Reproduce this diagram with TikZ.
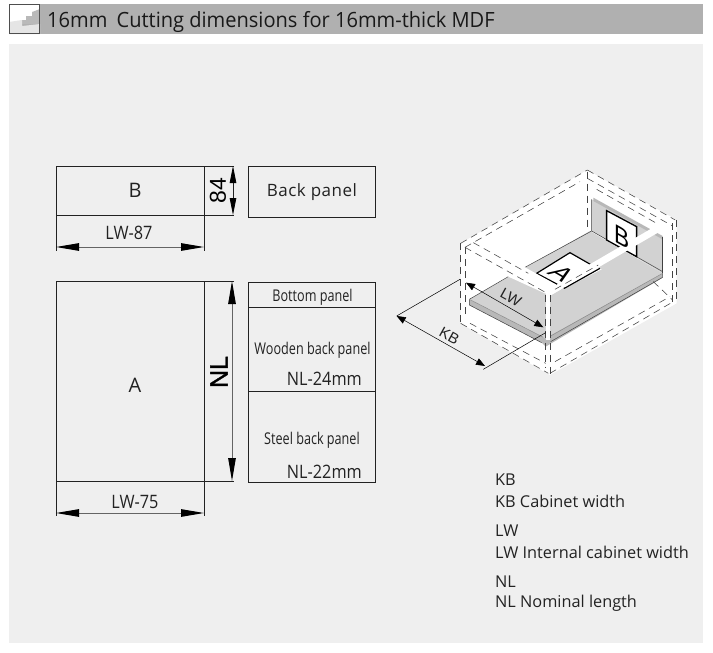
\documentclass[tikz,border=0pt]{standalone}
\usepackage{fontspec}
\setmainfont{Open Sans}
\newfontfamily\narrowfont[FakeStretch=0.78]{Open Sans}
\newfontfamily\semifont[FakeStretch=0.88]{Open Sans}
\newfontfamily\titlefont[FakeStretch=0.955]{Open Sans}
\newfontfamily\dimfont{Liberation Sans}
\newfontfamily\dimbold[FakeBold=1.2]{Liberation Sans}
\usetikzlibrary{arrows.meta}
\definecolor{panelbg}{HTML}{EFEFEF}
\definecolor{barbg}{HTML}{B0B0B0}
\definecolor{ink}{HTML}{222222}
\definecolor{floorc}{HTML}{D2D2D2}
\definecolor{edgec}{HTML}{B8B8B8}
\tikzset{
 fsize/.style={font=\fontsize{#1}{#1}\selectfont},
 panelbox/.style={draw=ink,line width=0.9pt},
 dimline/.style={draw=ink,line width=0.8pt},
 dimarrow/.style={draw=ink!70,line width=1pt,{Triangle[length=23pt,width=7.5pt,color=black]}-{Triangle[length=23pt,width=7.5pt,color=black]}},
 txt/.style={text=ink,inner sep=0pt},
 dash3d/.style={draw=ink!85,line width=0.55pt,dash pattern=on 7pt off 5pt},
 line3d/.style={draw=black!75,line width=0.5pt},
 arrow3d/.style={draw=black,line width=0.5pt,{Triangle[length=9pt,width=7pt,color=black]}-{Triangle[length=9pt,width=7pt,color=black]}},
}
\begin{document}
\begin{tikzpicture}[x=1pt,y=-1pt]
\useasboundingbox (0,0) rectangle (713,653);
\fill[white] (0,0) rectangle (713,653);
% header
\fill[barbg] (9,4) rectangle (703,34);
\fill[panelbg] (9,44) rectangle (703,643);
% icon
\fill[white] (9,4) rectangle (40,24);
\fill[gray!55] (22,24) -- (22,20) -- (26,20) -- (26,16) -- (32,16) -- (32,12) -- (40,9) -- (40,24) -- cycle;
\fill[gray!20] (9,22) -- (22,20) -- (22,26) -- (40,24) -- (40,34) -- (9,34) -- cycle;
\draw[ink!80,line width=0.7pt] (9.5,4.5) rectangle (39.5,33.5);
\node[txt,anchor=west,fsize=21,text=black!90] (title) at (47,21.5) {\titlefont 16mm\hspace{4pt} Cutting dimensions for 16mm-thick MDF};

% B piece
\coordinate (bTL) at (56,166); \coordinate (bTR) at (204,166);
\coordinate (bBL) at (56,215); \coordinate (bBR) at (204,215);
\coordinate (bTx) at (234,166); \coordinate (bBx) at (234,215);
\coordinate (bLd) at (56,251); \coordinate (bRd) at (204,251);
\coordinate (bLa) at (56,247); \coordinate (bRa) at (204,247);
\coordinate (bHt) at (233,166); \coordinate (bHb) at (233,215);
\draw[dimline] (bTx) -- (bTL) -- (bLd);
\draw[dimline] (bBL) -- (bBx);
\draw[dimline] (bTR) -- (bRd);
\draw[dimarrow] (bLa) -- (bRa);
\draw[draw=ink,line width=0.8pt,{Triangle[length=17pt,width=6.5pt,color=black]}-{Triangle[length=17pt,width=6.5pt,color=black]}] (bHt) -- (bHb);
\node[txt,fsize=20] (labB) at (135,190) {B};
\node[txt,fsize=18.5] (lab87) at (129,233) {\semifont LW-87};
\node[txt,fsize=23,rotate=90,text=black] (lab84) at (218,190.5) {\dimfont 84};

% back panel box
\node[panelbox,minimum width=127pt,minimum height=51pt,anchor=north west,inner sep=0pt,fsize=17,text=ink] (back) at (248,166) {\addfontfeature{LetterSpace=3}Back panel};

% A piece
\coordinate (aTL) at (56,281); \coordinate (aTR) at (204,281);
\coordinate (aBL) at (56,481); \coordinate (aBR) at (204,481);
\coordinate (aTx) at (234,281); \coordinate (aBx) at (234,481);
\coordinate (aLd) at (56,516); \coordinate (aRd) at (204,516);
\coordinate (aLa) at (56,513); \coordinate (aRa) at (204,513);
\coordinate (aHt) at (232,281); \coordinate (aHb) at (232,481);
\draw[dimline] (aTx) -- (aTL) -- (aLd);
\draw[dimline] (aBL) -- (aBx);
\draw[dimline] (aTR) -- (aRd);
\draw[dimarrow] (aLa) -- (aRa);
\draw[dimarrow] (aHt) -- (aHb);
\node[txt,fsize=20] (labA) at (135,385) {A};
\node[txt,fsize=18.5] (lab75) at (135,502) {\semifont LW-75};
\node[txt,fsize=25,rotate=90,text=black] (labNL) at (219,372) {\dimbold NL};

% panel stack
\node[panelbox,minimum width=127pt,minimum height=200pt,anchor=north west,inner sep=0pt] (stack) at (248,282) {};
\coordinate (s1l) at (248,307); \coordinate (s1r) at (375,307);
\coordinate (s2l) at (248,391); \coordinate (s2r) at (375,391);
\draw[panelbox] (s1l) -- (s1r);
\draw[panelbox] (s2l) -- (s2r);
\node[txt,fsize=16.2] (t1) at (312.5,297) {\narrowfont Bottom panel};
\node[txt,fsize=16.2] (t2) at (312.5,350) {\narrowfont Wooden back panel};
\node[txt,anchor=east,fsize=18.5] (t3) at (362,379) {\semifont NL-24mm};
\node[txt,fsize=16.2] (t4) at (312,440) {\narrowfont Steel back panel};
\node[txt,anchor=east,fsize=18.5] (t5) at (362,472) {\semifont NL-22mm};

% legend
\node[txt,anchor=west,fsize=16.3] (k1) at (495,480) {KB};
\node[txt,anchor=west,fsize=16.3] (k2) at (495,501) {KB Cabinet width};
\node[txt,anchor=west,fsize=16.3] (k3) at (495,531) {LW};
\node[txt,anchor=west,fsize=16.3] (k4) at (495,552) {LW Internal cabinet width};
\node[txt,anchor=west,fsize=16.3] (k5) at (495,582) {NL};
\node[txt,anchor=west,fsize=16.3] (k6) at (495,603) {NL Nominal length};

% isometric drawer, coordinates in 3x zoom units
\begin{scope}[shift={(380,160)},x=0.3333pt,y=-0.3333pt]
 \fill[white] (242,250) -- (622,30) -- (890,180) -- (890,430) -- (510,645) -- (242,490) -- cycle;
 % back wall
 \fill[floorc] (635,118) -- (848,235) -- (848,340) -- (635,213) -- cycle;
 \fill[edgec] (640,113) -- (848,228) -- (848,238) -- (640,123) -- cycle;
 % slab edge
 \fill[edgec] (268,418) -- (268,435) -- (485,548) -- (497,560) -- (845,355) -- (848,340) -- (490,530) -- cycle;
 % floor
 \fill[floorc] (630,213) -- (848,340) -- (495,535) -- (268,418) -- cycle;
 \draw[line3d] (635,118) -- (635,213) -- (848,335);
 \draw[line3d] (848,232) -- (848,340);
 \draw[line3d] (635,213) -- (435,322);
 \draw[line3d] (268,418) -- (385,350);
 \draw[line3d] (268,418) -- (268,435) -- (485,548);
 \draw[line3d,draw=black!45] (268,418) -- (490,532);
 \draw[line3d,draw=black!45] (512,528) -- (848,340);
 \draw[line3d] (512,545) -- (848,352) -- (848,340);
 % paper B
 \fill[white] (680,152) -- (770,200) -- (770,290) -- (680,240) -- cycle;
 \draw[black,line width=1.3pt] (680,152) -- (770,200) -- (770,290) -- (680,240) -- cycle;
 % paper A
 \fill[white] (470,340) -- (570,278) -- (665,328) -- (555,385) -- cycle;
 \draw[black,line width=1.2pt] (555,385) -- (470,340) -- (570,278) -- (640,318);
 \draw[black,line width=1.2pt] (553,385) -- (660,325);
 % white rails over floor
 \fill[white] (385,350) -- (435,322) -- (548,385) -- (510,407) -- cycle;
 \fill[white] (510,407) -- (882,190) -- (872,172) -- (535,368) -- cycle;
 \fill[white] (497,400) rectangle (510,540);
 % letters
 \begin{scope}[shift={(545,342)}]
  \node[cm={0.87,-0.5,0.82,0.47,(0,0)},transform shape,inner sep=0pt,fsize=27,text=black] (letA) at (0,0) {\dimfont A};
 \end{scope}
 \begin{scope}[shift={(726,232)}]
  \node[cm={0.87,-0.5,0,1,(0,0)},transform shape,inner sep=0pt,fsize=26,text=black] (letB) at (0,0) {\dimfont B};
 \end{scope}
 % dashes: verticals
 \coordinate (fa) at (242,250); \coordinate (fb) at (242,490);
 \coordinate (fc) at (255,262); \coordinate (fd) at (255,470);
 \coordinate (ga) at (497,405); \coordinate (gb) at (497,625);
 \coordinate (ha) at (510,405); \coordinate (hb) at (510,645);
 \coordinate (ia) at (622,35); \coordinate (ib) at (622,212);
 \coordinate (ja) at (878,190); \coordinate (jb) at (878,425);
 \coordinate (ka) at (890,180); \coordinate (kb) at (890,432);
 \draw[dash3d] (fa) -- (fb);
 \draw[dash3d] (fc) -- (fd);
 \draw[dash3d] (ga) -- (gb);
 \draw[dash3d] (ha) -- (hb);
 \draw[dash3d] (ia) -- (ib);
 \draw[dash3d] (ja) -- (jb);
 \draw[dash3d] (ka) -- (kb);
 % top
 \coordinate (t0) at (242,250); \coordinate (t1c) at (622,30); \coordinate (t2c) at (886,180);
 \draw[dash3d] (t0) -- (t1c);
 \draw[dash3d] (t1c) -- (t2c);
 \draw[dash3d] (255,262) -- (600,65);
 \draw[dash3d] (622,55) -- (878,198);
 \draw[dash3d] (650,88) -- (830,190);
 \draw[dash3d] (255,262) -- (505,402);
 \draw[dash3d] (280,248) -- (445,340);
 \draw[dash3d] (525,388) -- (655,315);
 % bottom
 \draw[dash3d] (242,490) -- (505,640);
 \draw[dash3d] (270,490) -- (497,610);
 \draw[dash3d] (510,640) -- (880,425);
 \draw[dash3d] (525,605) -- (870,410);
 \draw[dash3d] (820,365) -- (878,420);
 % dimensions
 \coordinate (lw1) at (258,368); \coordinate (lw2) at (490,502);
 \coordinate (kb1) at (50,468); \coordinate (kb2) at (315,618);
 \coordinate (ke1) at (240,358); \coordinate (ke2) at (310,628); \coordinate (ke3) at (497,518);
 \draw[line3d,draw=black] (kb1) -- (ke1);
 \draw[line3d,draw=black] (ke2) -- (ke3);
 \draw[arrow3d] (lw1) -- (lw2);
 \draw[arrow3d] (kb1) -- (kb2);
 \node[rotate=-29,inner sep=0pt,fsize=15,text=ink] (lLW) at (393,413) {\dimfont LW};
 \node[rotate=-29,inner sep=0pt,fsize=15,text=ink] (lKB) at (208,529) {\dimfont KB};
\end{scope}
\end{tikzpicture}
\end{document}
